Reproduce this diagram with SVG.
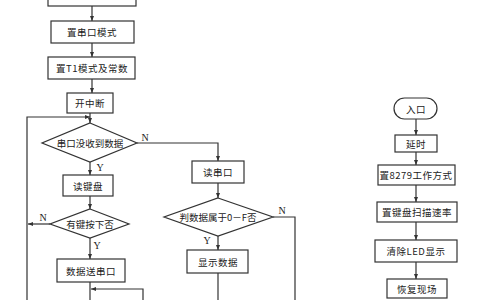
<svg xmlns="http://www.w3.org/2000/svg" width="480" height="300" viewBox="0 0 480 300">
<defs>
<marker id="ah" viewBox="0 0 10 10" refX="10" refY="5" markerWidth="5" markerHeight="5" orient="auto" markerUnits="userSpaceOnUse"><path d="M0,1 L10,5 L0,9 z" fill="#333"/></marker>
<style>
.b{fill:#fff;stroke:#333;stroke-width:1.2}
.t{font-family:"Noto Sans CJK SC","Liberation Serif",serif;font-size:9.5px;fill:#222;text-anchor:middle;dominant-baseline:central;letter-spacing:0.5px}
.n{letter-spacing:0}
.l{font-family:"Liberation Serif",serif;font-size:10px;fill:#222;text-anchor:middle;dominant-baseline:central}
.c{fill:none;stroke:#333;stroke-width:1.2}
.a{marker-end:url(#ah)}
</style>
</defs>
<rect width="480" height="300" fill="#fff"/>
<g id="connectors">
<path class="c a" d="M92,6 V21"/>
<path class="c a" d="M92,43 V57"/>
<path class="c a" d="M92,79 V93"/>
<path class="c a" d="M90,113 V123"/>
<path class="c a" d="M27,300 V117 H90"/>
<path class="c a" d="M90,162 V175"/>
<path class="c a" d="M90,196 V209"/>
<path class="c a" d="M50,224 H28"/>
<path class="c a" d="M90,238 V259"/>
<path class="c" d="M90,282 V300"/>
<path class="c a" d="M143,300 V289 H91"/>
<path class="c a" d="M137,143 H218 V161"/>
<path class="c a" d="M218,183 V198"/>
<path class="c" d="M273,217 H295 V300"/>
<path class="c a" d="M218,236 V250"/>
<path class="c" d="M218,273 V300"/>
<path class="c a" d="M416,119 V135"/>
<path class="c a" d="M416,152 V165"/>
<path class="c a" d="M416,185 V202"/>
<path class="c a" d="M416,222 V240"/>
<path class="c a" d="M416,262 V279"/>
<text class="l" x="145" y="137">N</text>
<text class="l" x="100" y="167">Y</text>
<text class="l" x="43" y="217">N</text>
<text class="l" x="97" y="245">Y</text>
<text class="l" x="282" y="210">N</text>
<text class="l" x="207" y="240">Y</text>
</g>
<g id="n_init"><rect class="b" x="48" y="-10" width="88" height="16"/></g>
<g id="n_serial"><rect class="b" x="51" y="21" width="83" height="22"/><text class="t" x="92" y="32">置串口模式</text></g>
<g id="n_t1"><rect class="b" x="48" y="57" width="87" height="22"/><text class="t" x="92" y="68">置T1模式及常数</text></g>
<g id="n_int"><rect class="b" x="67" y="93" width="46" height="20"/><text class="t" x="90" y="103">开中断</text></g>
<g id="n_d1"><polygon class="b" points="90,123 137,143 90,162 42,143"/><text class="t n" x="90" y="143">串口没收到数据</text></g>
<g id="n_kbd"><rect class="b" x="63" y="175" width="50" height="21"/><text class="t" x="88" y="185.5">读键盘</text></g>
<g id="n_d2"><polygon class="b" points="90,209 129,224 90,238 50,224"/><text class="t n" x="90" y="224">有键按下否</text></g>
<g id="n_send"><rect class="b" x="57" y="259" width="68" height="23"/><text class="t" x="91" y="270.5">数据送串口</text></g>
<g id="n_read"><rect class="b" x="192" y="161" width="52" height="22"/><text class="t" x="218" y="172">读串口</text></g>
<g id="n_d3"><polygon class="b" points="218,198 273,217 218,236 164,217"/><text class="t n" x="218" y="217">判数据属于0－F否</text></g>
<g id="n_disp"><rect class="b" x="187" y="250" width="61" height="23"/><text class="t" x="218" y="261.5">显示数据</text></g>
<g id="n_entry"><rect class="b" x="394" y="98" width="43" height="21" rx="10.5"/><text class="t" x="416" y="108.5">入口</text></g>
<g id="n_delay"><rect class="b" x="395" y="135" width="42" height="17"/><text class="t" x="416" y="143.5">延时</text></g>
<g id="n_8279"><rect class="b" x="378" y="165" width="77" height="20"/><text class="t" x="416" y="175">置8279工作方式</text></g>
<g id="n_scan"><rect class="b" x="377" y="202" width="80" height="20"/><text class="t" x="417" y="212">置键盘扫描速率</text></g>
<g id="n_led"><rect class="b" x="375" y="240" width="82" height="22"/><text class="t" x="416" y="251">清除LED显示</text></g>
<g id="n_restore"><rect class="b" x="387" y="279" width="60" height="19"/><text class="t" x="417" y="288.5">恢复现场</text></g>
</svg>
